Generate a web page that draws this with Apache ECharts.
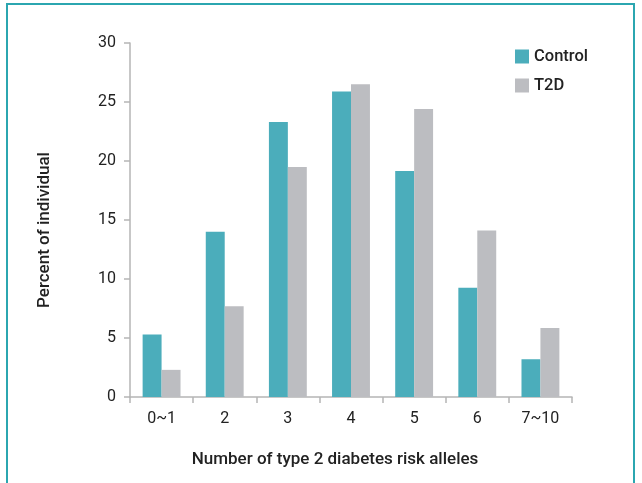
<!DOCTYPE html>
<html><head><meta charset="utf-8">
<script src="https://cdn.jsdelivr.net/npm/echarts@6/dist/echarts.min.js"></script>
<style>
html,body{margin:0;padding:0;background:#fff;overflow:hidden}
#frame{position:absolute;left:6px;top:3px;width:629px;height:520px;border:2px solid #2ba6b0;border-bottom:none;box-sizing:border-box}
#c{position:absolute;left:0;top:0;width:642px;height:483px}
</style></head>
<body>
<div id="frame"></div>
<div id="c"></div>
<script>
const categories = ['0~1','2','3','4','5','6','7~10'];
const controlValues = [5.3, 14.0, 23.3, 25.9, 19.15, 9.25, 3.2];
const t2dValues = [2.3, 7.7, 19.5, 26.5, 24.4, 14.1, 5.85];
const yTicks = [0, 5, 10, 15, 20, 25, 30];

const font = '"Roboto", sans-serif';
const chart = echarts.init(document.getElementById('c'), null, {renderer:'canvas'});
chart.setOption({
  animation:false,
  grid:{left:130, right:70, top:43, bottom:86, containLabel:false},
  legend:{
    data:['Control','T2D'], orient:'vertical', left:510, top:43,
    itemWidth:14, itemHeight:14, itemGap:12, icon:'rect',
    textStyle:{fontFamily:font, fontSize:16.5, fontWeight:500, color:'#222'}
  },
  xAxis:{
    type:'category', data:categories,
    name:'Number of type 2 diabetes risk alleles', nameLocation:'middle', nameGap:54,
    nameTextStyle:{fontFamily:font, fontSize:17, fontWeight:500, color:'#222', padding:[0,32,0,0]},
    axisLine:{lineStyle:{color:'#b5b5b5', width:1.5}},
    axisTick:{show:true, length:6, lineStyle:{color:'#b5b5b5', width:1.5}},
    axisLabel:{fontFamily:font, fontSize:16, color:'#222', margin:14}
  },
  yAxis:{
    type:'value', min:0, max:30, interval:5,
    name:'Percent of individual', nameLocation:'middle', nameGap:77, nameRotate:90,
    nameTextStyle:{fontFamily:font, fontSize:17, fontWeight:500, color:'#222', padding:[0,20,0,0]},
    axisLine:{show:true, lineStyle:{color:'#b5b5b5', width:1.5}},
    axisTick:{show:true, length:6, lineStyle:{color:'#b5b5b5', width:1.5}},
    axisLabel:{fontFamily:font, fontSize:16, color:'#222', margin:14,
      formatter:v=>yTicks.includes(v)?String(v):''},
    splitLine:{show:false}
  },
  series:[
    {name:'Control', type:'bar', data:controlValues, barGap:'0%', barCategoryGap:'40%',
     itemStyle:{color:'#4badbb'}},
    {name:'T2D', type:'bar', data:t2dValues, barGap:'0%', barCategoryGap:'40%',
     itemStyle:{color:'#bcbdc1'}}
  ]
});
</script>
</body></html>
